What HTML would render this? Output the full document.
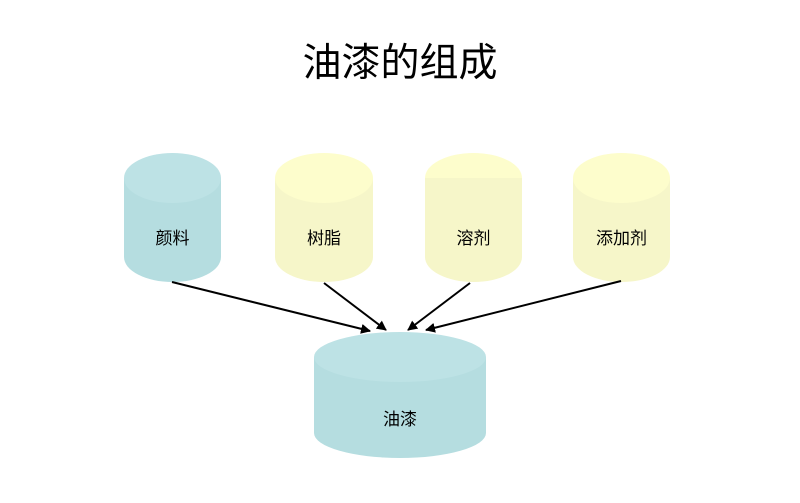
<!DOCTYPE html>
<html><head><meta charset="utf-8"><style>
html,body{margin:0;padding:0;background:#fff;width:800px;height:503px;overflow:hidden}
text{font-family:"Liberation Sans","Noto Sans CJK SC",sans-serif;fill:#000}
</style></head><body>
<svg width="800" height="503" viewBox="0 0 800 503" xmlns="http://www.w3.org/2000/svg">
<defs><marker id="a" markerWidth="10" markerHeight="10" refX="9" refY="5" orient="auto" markerUnits="userSpaceOnUse"><path d="M0,0 L10,5 L0,10 z" fill="#000"/></marker></defs>
<text x="400" y="76" font-size="39" text-anchor="middle">油漆的组成</text>
<path d="M124,178 L124,257 A48.5,25 0 0 0 221,257 L221,178 Z" fill="#b5dde0"/>
<ellipse cx="172.5" cy="178" rx="48.5" ry="25" fill="#bde2e5"/>
<text x="172.5" y="244" font-size="17" text-anchor="middle">颜料</text>
<path d="M275,178 L275,257 A49,25 0 0 0 373,257 L373,178 Z" fill="#f6f6c9"/>
<ellipse cx="324" cy="178" rx="49" ry="25" fill="#fdfdcc"/>
<text x="324" y="244" font-size="17" text-anchor="middle">树脂</text>
<path d="M425,178 A48.5,25 0 0 1 522,178 Z" fill="#fdfdcc"/>
<path d="M425,178 L425,257 A48.5,25 0 0 0 522,257 L522,178 Z" fill="#f6f6c9"/>
<text x="473.5" y="244" font-size="17" text-anchor="middle">溶剂</text>
<path d="M573,178 L573,257 A48.5,25 0 0 0 670,257 L670,178 Z" fill="#f6f6c9"/>
<ellipse cx="621.5" cy="178" rx="48.5" ry="25" fill="#fdfdcc"/>
<text x="621.5" y="244" font-size="17" text-anchor="middle">添加剂</text>
<path d="M314,357 L314,433 A86,25 0 0 0 486,433 L486,357 Z" fill="#b5dde0"/>
<ellipse cx="400" cy="357" rx="86" ry="25" fill="#bde2e5"/>
<text x="400" y="425" font-size="17" text-anchor="middle">油漆</text>
<g stroke="#000" stroke-width="2" marker-end="url(#a)">
<line x1="172" y1="282" x2="370" y2="331"/>
<line x1="324" y1="283" x2="386" y2="330"/>
<line x1="470" y1="283" x2="408" y2="330"/>
<line x1="621" y1="281" x2="426" y2="330"/>
</g>
</svg>
</body></html>
